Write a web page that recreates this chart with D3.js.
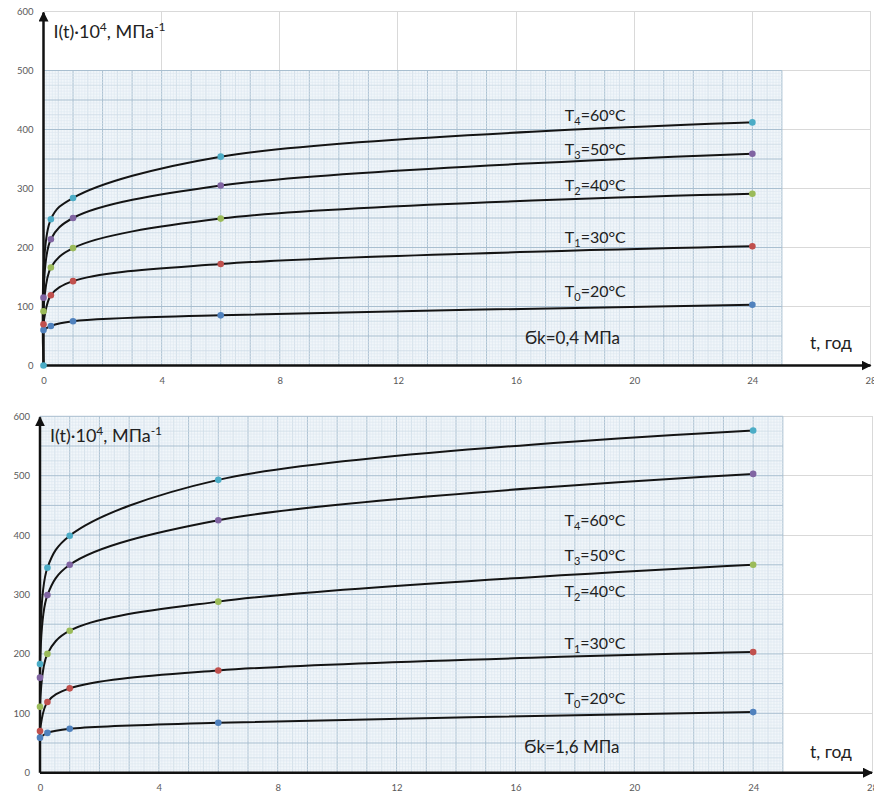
<!DOCTYPE html>
<html lang="ru"><head><meta charset="utf-8">
<title>I(t)</title>
<script src="https://cdn.jsdelivr.net/npm/d3@7"></script>
<style>
  body { margin: 0; background: #fff; }
  text { font-family: Lato, "Open Sans", sans-serif; }
</style>
</head>
<body>
<script>
    // time points, years
    var tValues = [0, 0.25, 1, 6, 24];
    var subIdx = ["0", "1", "2", "3", "4"];
    var temps = [20, 30, 40, 50, 60];
    var dotColors = ["#4f81bd", "#c0504d", "#9bbb59", "#8064a2", "#4bacc6"];

    // sigma_k = 0.4 MPa
    var valuesTop = [
        [60, 67, 75, 85, 103],
        [70, 119, 143, 172, 202],
        [92, 166, 199, 249, 291],
        [115, 214, 250, 305, 359],
        [0, 248, 284, 354, 412]
    ];
    // sigma_k = 1.6 MPa
    var valuesBottom = [
        [59, 67, 74, 84, 102],
        [70, 119, 142, 172, 203],
        [111, 200, 239, 288, 350],
        [160, 299, 350, 425, 503],
        [183, 345, 399, 493, 576]
    ];
    // label baselines in chart units
    var labelLevels = [116, 208, 296, 357, 415];
    var xTicks = [0, 4, 8, 12, 16, 20, 24, 28];
    var yTicks = [0, 100, 200, 300, 400, 500, 600];

    var svg = d3.select("body").append("svg")
        .attr("width", 874)
        .attr("height", 795);

    var defs = svg.append("defs");
    defs.append("marker")
        .attr("id", "arrow")
        .attr("viewBox", "0 0 10 10")
        .attr("refX", 9).attr("refY", 5)
        .attr("markerWidth", 4).attr("markerHeight", 4)
        .attr("markerUnits", "strokeWidth")
        .attr("orient", "auto")
        .append("path").attr("d", "M0,0 L10,5 L0,10 Z").attr("fill", "#111");

    function drawChart(cfg) {
        var x = d3.scaleLinear().domain([0, 28]).range([cfg.x0, cfg.x1]);
        var y = d3.scaleLinear().domain([0, 600]).range([cfg.y0, cfg.y1]);
        var g = svg.append("g");

        // excel gridlines
        g.append("g").selectAll("line").data(xTicks).enter().append("line")
            .attr("x1", function (d) { return x(d); }).attr("x2", function (d) { return x(d); })
            .attr("y1", y(0)).attr("y2", y(600))
            .attr("stroke", "#d9d9d9").attr("shape-rendering", "crispEdges");
        g.append("g").selectAll("line").data(yTicks).enter().append("line")
            .attr("y1", function (d) { return y(d); }).attr("y2", function (d) { return y(d); })
            .attr("x1", x(0)).attr("x2", x(28))
            .attr("stroke", "#d9d9d9").attr("shape-rendering", "crispEdges");

        // graph paper
        var paper = g.append("g");
        paper.append("rect")
            .attr("x", x(0)).attr("y", y(cfg.paperTop))
            .attr("width", x(25) - x(0)).attr("height", y(0) - y(cfg.paperTop))
            .attr("fill", "#f1f6fa");
        var xs = d3.range(0, 251).map(function (i) { return i / 10; });
        var ys = d3.range(0, cfg.paperTop / 5 + 1).map(function (i) { return i * 5; });
        function lineStyle(i, period) {
            if (i % period === 0) return ["#a9bfd0", 1];
            if (i % (period / 2) === 0) return ["#cddbe6", 0.8];
            return ["#dde7f0", 0.6];
        }
        paper.selectAll(".vx").data(xs).enter().append("line")
            .attr("x1", function (d) { return x(d); }).attr("x2", function (d) { return x(d); })
            .attr("y1", y(0)).attr("y2", y(cfg.paperTop))
            .attr("stroke", function (d, i) { return lineStyle(i, 10)[0]; })
            .attr("stroke-width", function (d, i) { return lineStyle(i, 10)[1]; });
        paper.selectAll(".hy").data(ys).enter().append("line")
            .attr("y1", function (d) { return y(d); }).attr("y2", function (d) { return y(d); })
            .attr("x1", x(0)).attr("x2", x(25))
            .attr("stroke", function (d, i) { return lineStyle(i, 10)[0]; })
            .attr("stroke-width", function (d, i) { return lineStyle(i, 10)[1]; });

        // tick labels
        g.append("g")
            .attr("transform", "translate(0," + y(0) + ")")
            .call(d3.axisBottom(x).tickValues(xTicks).tickSize(0).tickPadding(12));
        g.append("g")
            .attr("transform", "translate(" + (x(0) - 4) + ",0)")
            .call(d3.axisLeft(y).tickValues(yTicks).tickSize(0).tickPadding(6));
        g.selectAll(".domain").remove();
        g.selectAll(".tick text")
            .attr("fill", "#595959")
            .attr("font-family", "Lato, sans-serif")
            .attr("font-size", 9.5);

        // axes with arrows
        g.append("line")
            .attr("x1", x(0)).attr("x2", x(28))
            .attr("y1", y(0)).attr("y2", y(0))
            .attr("stroke", "#111").attr("stroke-width", 2.5)
            .attr("marker-end", "url(#arrow)");
        g.append("line")
            .attr("x1", x(0)).attr("x2", x(0))
            .attr("y1", y(0)).attr("y2", y(600) + 1)
            .attr("stroke", "#111").attr("stroke-width", 2.5)
            .attr("marker-end", "url(#arrow)");

        // curves
        var line = d3.line()
            .x(function (d) { return x(d[0]); })
            .y(function (d) { return y(d[1]); })
            .curve(d3.curveCatmullRom.alpha(0.5));
        cfg.values.forEach(function (vals) {
            var pts = tValues.map(function (t, i) { return [t, vals[i]]; });
            g.append("path")
                .attr("d", line(pts))
                .attr("fill", "none")
                .attr("stroke", "#141414")
                .attr("stroke-width", 2);
        });
        cfg.values.forEach(function (vals, si) {
            g.append("g").selectAll("circle")
                .data(tValues.map(function (t, i) { return [t, vals[i]]; }))
                .enter().append("circle")
                .attr("cx", function (d) { return x(d[0]); })
                .attr("cy", function (d) { return y(d[1]); })
                .attr("r", 3.3)
                .attr("fill", dotColors[si]);
        });

        // series labels
        labelLevels.forEach(function (lv, i) {
            var t = g.append("text")
                .attr("x", x(17.65)).attr("y", y(lv))
                .attr("font-size", 16).attr("fill", "#222");
            t.append("tspan").text("T");
            t.append("tspan").attr("font-size", 11).attr("dy", 4).text(subIdx[i]);
            t.append("tspan").attr("dy", -4).text("=" + temps[i] + "°C");
        });

        g.append("text")
            .attr("x", x(16.3)).attr("y", y(0) - cfg.sigmaDy)
            .attr("font-size", 17).attr("fill", "#222")
            .text(cfg.sigma);
        g.append("text")
            .attr("x", 810).attr("y", y(0) - cfg.tDy)
            .attr("font-size", 17.5).attr("fill", "#222")
            .text("t, год");

        var title = g.append("text")
            .attr("x", x(0) + 10).attr("y", y(600) + 26)
            .attr("font-size", 18).attr("fill", "#222");
        title.append("tspan").text("I(t)·10");
        title.append("tspan").attr("font-size", 12).attr("dy", -7).text("4");
        title.append("tspan").attr("dy", 7).text(", МПа");
        title.append("tspan").attr("font-size", 12).attr("dy", -7).text("-1");
    }

    drawChart({
        x0: 43.5, x1: 870.5, y0: 365.5, y1: 11.5,
        paperTop: 500, values: valuesTop,
        sigma: "Ϭk=0,4 МПа", sigmaDy: 22, tDy: 17
    });
    drawChart({
        x0: 40, x1: 872, y0: 772.7, y1: 416.3,
        paperTop: 600, values: valuesBottom,
        sigma: "Ϭk=1,6 МПа", sigmaDy: 20, tDy: 15
    });
</script>
</body></html>
